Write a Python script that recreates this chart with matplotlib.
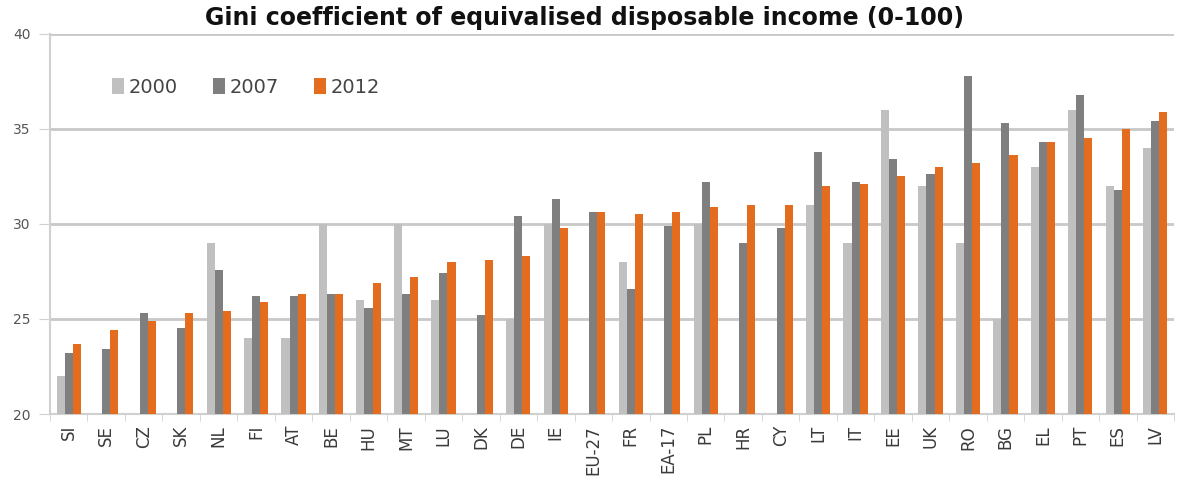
import matplotlib.pyplot as plt
import numpy as np

# countries, ranked as in the source chart
countries = ['SI', 'SE', 'CZ', 'SK', 'NL', 'FI', 'AT', 'BE', 'HU', 'MT',
             'LU', 'DK', 'DE', 'IE', 'EU-27', 'FR', 'EA-17', 'PL', 'HR', 'CY',
             'LT', 'IT', 'EE', 'UK', 'RO', 'BG', 'EL', 'PT', 'ES', 'LV']

# Gini values (nan = no data)
g2000 = [22.0, np.nan, np.nan, np.nan, 29.0, 24.0, 24.0, 30.0, 26.0, 30.0,
         26.0, np.nan, 25.0, 30.0, np.nan, 28.0, np.nan, 30.0, np.nan, np.nan,
         31.0, 29.0, 36.0, 32.0, 29.0, 25.0, 33.0, 36.0, 32.0, 34.0]
g2007 = [23.2, 23.4, 25.3, 24.5, 27.6, 26.2, 26.2, 26.3, 25.6, 26.3,
         27.4, 25.2, 30.4, 31.3, 30.6, 26.6, 29.9, 32.2, 29.0, 29.8,
         33.8, 32.2, 33.4, 32.6, 37.8, 35.3, 34.3, 36.8, 31.8, 35.4]
g2012 = [23.7, 24.4, 24.9, 25.3, 25.4, 25.9, 26.3, 26.3, 26.9, 27.2,
         28.0, 28.1, 28.3, 29.8, 30.6, 30.5, 30.6, 30.9, 31.0, 31.0,
         32.0, 32.1, 32.5, 33.0, 33.2, 33.6, 34.3, 34.5, 35.0, 35.9]

c2000 = '#c0c0c0'
c2007 = '#7f7f7f'
c2012 = '#e36c1e'

fig = plt.figure(figsize=(11.77, 4.97), dpi=100)
ax = fig.add_axes([0.0425, 0.167, 0.955, 0.765])

x = np.arange(len(countries))
w = 0.215
ax.bar(x - w, g2000, w, color=c2000, label='2000', zorder=3)
ax.bar(x, g2007, w, color=c2007, label='2007', zorder=3)
ax.bar(x + w, g2012, w, color=c2012, label='2012', zorder=3)

ax.set_ylim(20, 40)
ax.set_xlim(-0.5, len(countries) - 0.5)
ax.set_yticks([20, 25, 30, 35, 40])
ax.yaxis.grid(True, color='#c8c8c8', linewidth=2, zorder=0)
ax.set_axisbelow(True)

for s in ['top', 'right']:
    ax.spines[s].set_visible(False)
ax.spines['left'].set_color('#d0d0d0')
ax.spines['left'].set_linewidth(1.5)
ax.spines['bottom'].set_color('#d0d0d0')
ax.spines['bottom'].set_linewidth(1.5)

ax.set_xticks(x)
ax.set_xticklabels(countries, rotation=90, fontsize=12, color='#3a3a3a')
ax.tick_params(axis='x', length=0, pad=8)
ax.set_xticks(np.arange(len(countries) + 1) - 0.5, minor=True)
ax.tick_params(axis='x', which='minor', length=5, color='#d0d0d0')
ax.tick_params(axis='y', length=8, color='#d0d0d0', labelsize=10,
               labelcolor='#555555', pad=6)

ax.legend(loc='upper left', bbox_to_anchor=(0.04, 0.93), ncol=3, frameon=False,
          fontsize=14, handlelength=0.6, handleheight=0.9, columnspacing=1.8,
          handletextpad=0.25, labelcolor='#444444')

fig.text(0.497, 0.963, 'Gini coefficient of equivalised disposable income (0-100)',
         ha='center', va='center', fontsize=17, fontweight='bold', color='#111111')

fig.savefig('out.png', dpi=100)
